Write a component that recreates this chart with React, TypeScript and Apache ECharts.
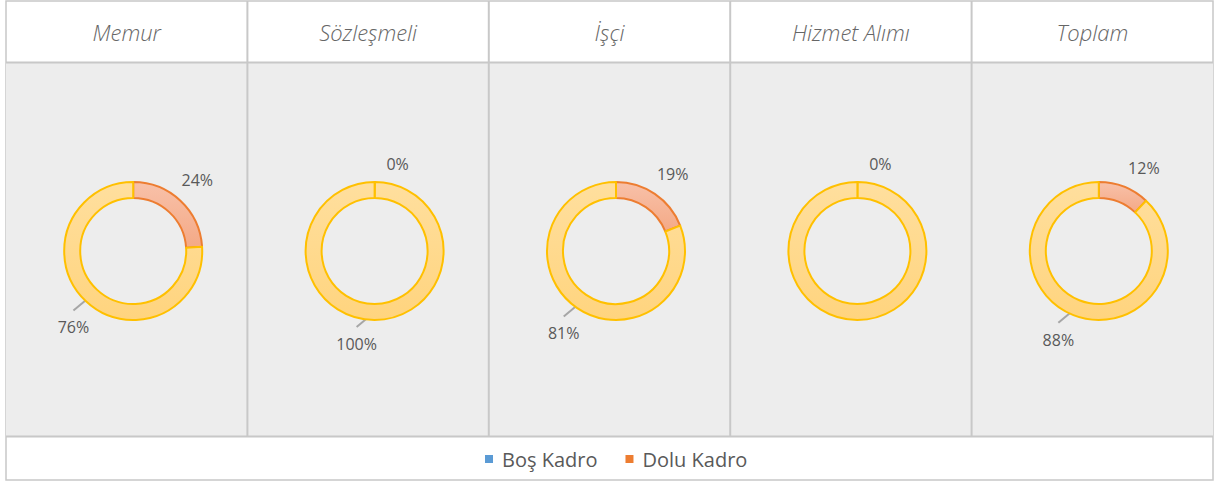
import React, { useEffect, useRef } from "react";
import * as echarts from "echarts";

const categories = ["Memur", "Sözleşmeli", "İşçi", "Hizmet Alımı", "Toplam"];
const seriesNames = ["Boş Kadro", "Dolu Kadro"];
const bosKadro = [24, 0, 19, 0, 12];
const doluKadro = [76, 100, 81, 100, 88];
const doluLabelVisible = [true, true, true, false, true];
const legendColors = ["#5B9BD5", "#ED7D31"];

const FRAME_L = 6;
const FRAME_R = 1213;
const FRAME_T = 1;
const HEADER_B = 62.5;
const BODY_B = 436.5;
const FRAME_B = 480;
const COL_W = (FRAME_R - FRAME_L) / 5;
const CENTER_Y = 251;
const R_IN = 53;
const R_OUT = 69;
const FONT = '"Open Sans", "Noto Sans", sans-serif';

export default function App() {
  const ref = useRef<HTMLDivElement>(null);
  useEffect(() => {
    const chart = echarts.init(ref.current!, null, { renderer: "svg" });
    const grid = "#C8C8C8";
    const graphic: any[] = [
      { type: "rect", z: 0, shape: { x: FRAME_L, y: FRAME_T, width: FRAME_R - FRAME_L, height: FRAME_B - FRAME_T }, style: { fill: "#FFFFFF", stroke: grid, lineWidth: 1.5 } },
      { type: "rect", z: 0, shape: { x: FRAME_L, y: HEADER_B, width: FRAME_R - FRAME_L, height: BODY_B - HEADER_B }, style: { fill: "#EDEDED" } },
      { type: "line", z: 1, shape: { x1: FRAME_L, y1: HEADER_B, x2: FRAME_R, y2: HEADER_B }, style: { stroke: grid, lineWidth: 2 } },
      { type: "line", z: 1, shape: { x1: FRAME_L, y1: BODY_B, x2: FRAME_R, y2: BODY_B }, style: { stroke: grid, lineWidth: 2 } },
    ];
    for (let k = 1; k < categories.length; k++) {
      const x = FRAME_L + COL_W * k;
      graphic.push({ type: "line", z: 1, shape: { x1: x, y1: FRAME_T, x2: x, y2: BODY_B }, style: { stroke: grid, lineWidth: 2 } });
    }
    categories.forEach((cat, k) => {
      graphic.push({
        type: "text",
        z: 2,
        x: FRAME_L + COL_W * k + COL_W / 2,
        y: 32,
        style: { text: cat, fill: "#666666", font: `italic 300 22px ${FONT}`, align: "center", verticalAlign: "middle" },
      });
    });

    const yellow = {
      color: new echarts.graphic.LinearGradient(0, 0, 0, 1, [
        { offset: 0, color: "#FFDF9E" },
        { offset: 1, color: "#FFD47E" },
      ]),
      borderColor: "#FFC000",
      borderWidth: 2,
    };
    const salmon = {
      color: new echarts.graphic.LinearGradient(0, 0, 0, 1, [
        { offset: 0, color: "#F8C1A9" },
        { offset: 1, color: "#F4A986" },
      ]),
      borderColor: "#ED7D31",
      borderWidth: 2,
    };

    const series = categories.map((cat, k) => {
      const cx = FRAME_L + COL_W * k + COL_W / 2 + 6.5;
      const total = bosKadro[k] + doluKadro[k];
      return {
        type: "pie",
        name: cat,
        center: [cx, CENTER_Y],
        radius: [R_IN, R_OUT],
        startAngle: 90,
        clockwise: true,
        minAngle: 0.3,
        avoidLabelOverlap: false,
        silent: true,
        label: {
          show: true,
          position: "outside",
          formatter: (p: any) => Math.round(p.percent) + "%",
          color: "#595959",
          fontSize: 16,
          fontFamily: FONT,
        },
        labelLine: { show: true, length: 10, length2: 0, lineStyle: { color: "#A6A6A6", width: 2 } },
        labelLayout: (p: any) => {
          const i = p.dataIndex;
          const before = i === 0 ? 0 : bosKadro[k];
          const val = i === 0 ? bosKadro[k] : doluKadro[k];
          const mid = ((before + val / 2) / total) * Math.PI * 2;
          const ux = Math.sin(mid);
          const uy = -Math.cos(mid);
          if (i === 0) {
            const lx = cx + 60 * ux + 23;
            const ly = CENTER_Y + 60 * uy - 27;
            return { x: lx, y: ly, align: "center", verticalAlign: "middle", labelLinePoints: [[lx, ly], [lx, ly], [lx, ly]] };
          }
          const sx = cx + 61 * ux;
          const sy = CENTER_Y + 61 * uy;
          return {
            x: sx - 18,
            y: sy + 32,
            align: "center",
            verticalAlign: "middle",
            labelLinePoints: [[sx, sy], [sx - 18, sy + 15], [sx - 18, sy + 15]],
          };
        },
        data: [
          {
            name: seriesNames[0],
            value: bosKadro[k],
            itemStyle: bosKadro[k] === 0 ? { ...yellow } : salmon,
            labelLine: { show: false },
          },
          {
            name: seriesNames[1],
            value: doluKadro[k],
            itemStyle: yellow,
            label: { show: doluLabelVisible[k] },
            labelLine: { show: doluLabelVisible[k] },
          },
        ],
      };
    });

    chart.setOption({
      animation: false,
      backgroundColor: "#FFFFFF",
      graphic,
      legend: {
        data: seriesNames.map((n, i) => ({ name: n, itemStyle: { color: legendColors[i], borderWidth: 0 } })),
        icon: "rect",
        itemWidth: 8,
        itemHeight: 8,
        itemGap: 28,
        left: 480,
        top: 444,
        selectedMode: false,
        textStyle: { color: "#595959", fontSize: 20, fontFamily: FONT, padding: [0, 0, 0, 4] },
      },
      series,
    });
    return () => chart.dispose();
  }, []);
  return <div ref={ref} style={{ position: "fixed", left: 0, top: 0, width: 1215, height: 481 }} />;
}
